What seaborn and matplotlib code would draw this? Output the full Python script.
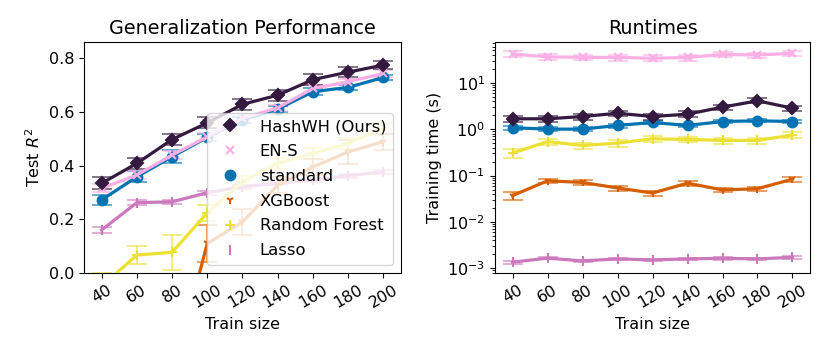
import numpy as np
import pandas as pd
import matplotlib
matplotlib.use("Agg")
import matplotlib.pyplot as plt
import seaborn as sns
from matplotlib.lines import Line2D

train_sizes = [40, 60, 80, 100, 120, 140, 160, 180, 200]
methods = ["HashWH (Ours)", "EN-S", "standard", "XGBoost", "Random Forest", "Lasso"]

# Test R^2 (means and error half-widths)
r2_hashwh = [0.334, 0.408, 0.497, 0.559, 0.628, 0.662, 0.720, 0.748, 0.774]
r2_ens = [0.315, 0.365, 0.439, 0.507, 0.576, 0.615, 0.687, 0.712, 0.743]
r2_standard = [0.272, 0.358, 0.433, 0.505, 0.570, 0.610, 0.675, 0.691, 0.728]
r2_xgboost = [-0.80, -0.55, -0.39, 0.110, 0.190, 0.327, 0.395, 0.451, 0.489]
r2_rf = [-0.05, 0.067, 0.077, 0.224, 0.340, 0.408, 0.445, 0.483, 0.538]
r2_lasso = [0.160, 0.262, 0.265, 0.299, 0.321, 0.334, 0.346, 0.362, 0.377]

r2err_hashwh = [0.022, 0.022, 0.022, 0.02, 0.02, 0.02, 0.02, 0.02, 0.015]
r2err_ens = [0.015, 0.015, 0.015, 0.015, 0.015, 0.012, 0.012, 0.012, 0.012]
r2err_standard = [0.018, 0.02, 0.025, 0.012, 0.012, 0.01, 0.012, 0.01, 0.01]
r2err_xgboost = [0.08, 0.08, 0.07, 0.068, 0.05, 0.03, 0.03, 0.045, 0.03]
r2err_rf = [0.05, 0.032, 0.065, 0.03, 0.02, 0.02, 0.02, 0.02, 0.02]
r2err_lasso = [0.01, 0.01, 0.008, 0.008, 0.008, 0.008, 0.008, 0.008, 0.008]

# Training time in seconds
t_hashwh = [1.67, 1.67, 1.87, 2.2, 1.87, 2.1, 2.98, 4.07, 2.83]
t_ens = [41.5, 36.0, 35.3, 35.0, 33.7, 35.0, 40.8, 39.5, 43.0]
t_standard = [1.07, 1.0, 1.0, 1.2, 1.39, 1.2, 1.46, 1.51, 1.46]
t_xgboost = [0.037, 0.077, 0.071, 0.054, 0.042, 0.0686, 0.049, 0.052, 0.0836]
t_rf = [0.304, 0.54, 0.444, 0.50, 0.62, 0.60, 0.57, 0.57, 0.75]
t_lasso = [0.00136, 0.00166, 0.00145, 0.0016, 0.00152, 0.0016, 0.00165, 0.0016, 0.00173]

terr_hashwh = [0.25, 0.25, 0.3, 0.3, 0.3, 0.3, 0.4, 0.5, 0.35]
terr_ens = [6, 5, 5, 5, 5, 5, 5, 5, 6]
terr_standard = [0.12, 0.1, 0.1, 0.12, 0.12, 0.1, 0.12, 0.12, 0.12]
terr_xgboost = [0.008, 0.009, 0.008, 0.007, 0.005, 0.009, 0.005, 0.005, 0.01]
terr_rf = [0.07, 0.08, 0.07, 0.08, 0.08, 0.08, 0.08, 0.08, 0.1]
terr_lasso = [0.0001, 0.0001, 0.0001, 0.0001, 0.0001, 0.0001, 0.0001, 0.0001, 0.0001]

colors = {"HashWH (Ours)": "#341a3f", "EN-S": "#fbafe4", "standard": "#0173b2",
          "XGBoost": "#d55e00", "Random Forest": "#ece133", "Lasso": "#cc78bc"}
markers = {"HashWH (Ours)": "D", "EN-S": "x", "standard": "o",
           "XGBoost": "1", "Random Forest": "+", "Lasso": "|"}
msizes = {"HashWH (Ours)": 6.5, "EN-S": 6, "standard": 7,
          "XGBoost": 6, "Random Forest": 7, "Lasso": 6.5}

r2_vals = [r2_hashwh, r2_ens, r2_standard, r2_xgboost, r2_rf, r2_lasso]
r2_errs = [r2err_hashwh, r2err_ens, r2err_standard, r2err_xgboost, r2err_rf, r2err_lasso]
t_vals = [t_hashwh, t_ens, t_standard, t_xgboost, t_rf, t_lasso]
t_errs = [terr_hashwh, terr_ens, terr_standard, terr_xgboost, terr_rf, terr_lasso]

plt.rcParams["font.family"] = ["DejaVu Sans"]
FS = 11.5

fig = plt.figure(figsize=(8.3, 3.56), dpi=100)
ax1 = fig.add_axes([0.1012, 0.2331, 0.3819, 0.6489])
ax2 = fig.add_axes([0.5964, 0.2331, 0.3795, 0.6489])

# draw order: back to front
order = [5, 4, 3, 2, 1, 0]
for ax, vals, errs in [(ax1, r2_vals, r2_errs), (ax2, t_vals, t_errs)]:
    for i in order:
        m = methods[i]
        df = pd.DataFrame({"size": train_sizes, "value": vals[i]})
        ax.errorbar(train_sizes, vals[i], yerr=errs[i], fmt="none",
                    ecolor=colors[m], alpha=0.65, capsize=7, elinewidth=1.3,
                    capthick=1.3, zorder=2)
        sns.lineplot(data=df, x="size", y="value", ax=ax, color=colors[m],
                     marker=markers[m], markersize=msizes[m], linewidth=2.3,
                     markeredgecolor=colors[m], markeredgewidth=1.5, zorder=3)

ax1.set_xlim(30, 210)
ax1.set_ylim(0, 0.86)
ax1.set_yticks([0.0, 0.2, 0.4, 0.6, 0.8])
ax1.set_title("Generalization Performance", fontsize=13.8)
ax1.set_ylabel("Test $R^2$", fontsize=FS)

ax2.set_yscale("log")
ax2.set_xlim(30, 210)
ax2.set_ylim(10 ** -3.1, 10 ** 1.877)
ax2.set_title("Runtimes", fontsize=13.8)
ax2.set_ylabel("Training time (s)", fontsize=FS)

for ax in (ax1, ax2):
    ax.set_xticks(train_sizes)
    ax.set_xticklabels([str(s) for s in train_sizes], rotation=30)
    ax.tick_params(labelsize=FS)
    ax.set_xlabel("Train size", fontsize=FS)

handles = [Line2D([], [], linestyle="none", marker=markers[m], color=colors[m],
                  markeredgecolor=colors[m], markersize=msizes[m], markeredgewidth=1.5)
           for m in methods]
ax1.legend(handles, methods, loc="lower right", fontsize=11.8, framealpha=0.8,
           labelspacing=0.6)

fig.savefig("out.png", dpi=100)
